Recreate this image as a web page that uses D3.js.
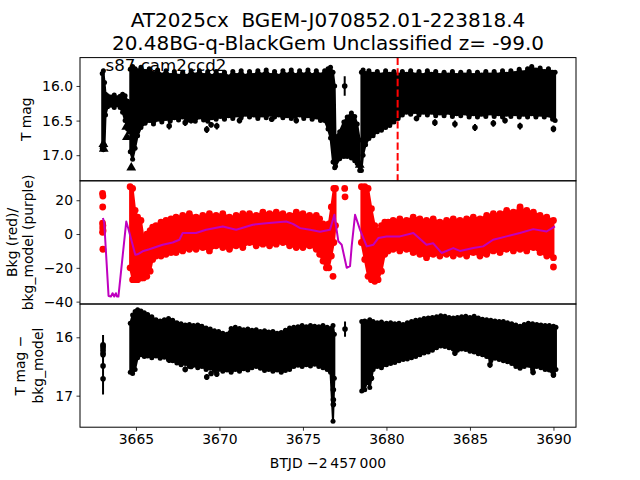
<!DOCTYPE html>
<html><head><meta charset="utf-8">
<script src="https://cdn.jsdelivr.net/npm/d3@7"></script>
<style>body{margin:0;background:#fff} svg{font-family:"DejaVu Sans",sans-serif;display:block}</style>
</head><body><svg id="c" width="640" height="480"></svg>
<script>
// ---------------- data ----------------
const titleLines = ["AT2025cx  BGEM-J070852.01-223818.4", "20.48BG-q-BlackGem Unclassified z= -99.0"];
const cornerLabel = "s87 cam2ccd2";
const xTicks = [3665, 3670, 3675, 3680, 3685, 3690];
const xLabel = "BTJD \u22122\u2009457\u2009000";
const markerTime = 3680.67;

// Panel 1: T mag  [time, upper envelope (bright), lower envelope (faint)]
const p1Ticks = [16.0, 16.5, 17.0];
const p1Early = [[3662.98,15.82,16.9],[3663.05,15.78,16.92],[3663.12,15.95,16.86],[3663.18,16.12,16.42],[3663.3,16.14,16.3],[3663.5,16.16,16.28],[3663.7,16.13,16.31],[3663.9,16.17,16.27],[3664.05,16.15,16.31],[3664.2,16.12,16.38],[3664.35,16.14,16.5],[3664.5,16.22,16.62],[3664.6,16.26,16.66]];
const p1Mid = [[3664.66,15.76,16.95],[3664.8,15.72,17.06],[3664.95,15.75,16.9],[3665.1,15.78,16.72],[3665.3,15.73,16.6],[3665.55,15.79,16.54],[3665.8,15.75,16.5],[3666.05,15.82,16.55],[3666.3,15.77,16.48],[3666.55,15.84,16.52],[3666.8,15.78,16.47],[3667.05,15.85,16.51],[3667.3,15.79,16.46],[3667.55,15.86,16.49],[3667.8,15.8,16.45],[3668.05,15.86,16.5],[3668.3,15.78,16.46],[3668.55,15.84,16.51],[3668.8,15.78,16.45],[3669.05,15.85,16.49],[3669.3,15.79,16.51],[3669.55,15.86,16.46],[3669.8,15.79,16.48],[3670.05,15.85,16.44],[3670.3,15.8,16.48],[3670.55,15.87,16.43],[3670.8,15.79,16.47],[3671.05,15.85,16.42],[3671.3,15.78,16.46],[3671.55,15.86,16.41],[3671.8,15.79,16.45],[3672.05,15.85,16.42],[3672.3,15.78,16.47],[3672.55,15.84,16.42],[3672.8,15.77,16.46],[3673.05,15.85,16.41],[3673.3,15.79,16.45],[3673.55,15.86,16.42],[3673.8,15.78,16.46],[3674.05,15.84,16.43],[3674.3,15.77,16.47],[3674.55,15.85,16.44],[3674.8,15.78,16.42],[3675.05,15.84,16.47],[3675.3,15.77,16.43],[3675.55,15.85,16.48],[3675.8,15.78,16.45],[3676.05,15.84,16.5],[3676.3,15.78,16.5],[3676.5,15.75,16.62],[3676.65,15.73,16.75],[3676.8,15.8,17.1],[3676.9,16.0,17.18],[3676.95,16.75,17.16],[3677.2,16.66,17.05],[3677.45,16.52,17.02],[3677.65,16.45,17.02],[3677.9,16.39,17.04],[3678.1,16.44,17.08],[3678.25,16.55,17.12],[3678.4,16.78,17.22]];
const p1Late = [[3678.5,15.8,17.22],[3678.6,15.77,17.0],[3678.75,15.82,16.85],[3678.95,15.78,16.76],[3679.2,15.83,16.72],[3679.45,15.79,16.66],[3679.7,15.84,16.64],[3679.95,15.78,16.6],[3680.2,15.83,16.57],[3680.45,15.79,16.52],[3680.7,15.84,16.47],[3680.95,15.79,16.42],[3681.2,15.83,16.38],[3681.45,15.78,16.41],[3681.7,15.84,16.37],[3681.95,15.79,16.42],[3682.2,15.85,16.38],[3682.45,15.78,16.42],[3682.7,15.83,16.38],[3682.95,15.79,16.43],[3683.2,15.85,16.39],[3683.45,15.8,16.43],[3683.7,15.84,16.38],[3683.95,15.79,16.44],[3684.2,15.85,16.4],[3684.45,15.8,16.43],[3684.7,15.84,16.39],[3684.95,15.79,16.45],[3685.2,15.85,16.4],[3685.45,15.8,16.45],[3685.7,15.84,16.41],[3685.95,15.79,16.44],[3686.2,15.84,16.39],[3686.45,15.79,16.44],[3686.7,15.84,16.4],[3686.95,15.78,16.45],[3687.2,15.83,16.41],[3687.45,15.78,16.44],[3687.7,15.82,16.4],[3687.95,15.76,16.45],[3688.2,15.81,16.41],[3688.45,15.75,16.45],[3688.7,15.72,16.4],[3688.95,15.77,16.45],[3689.2,15.74,16.41],[3689.45,15.79,16.45],[3689.7,15.75,16.42],[3689.95,15.8,16.48],[3690.1,15.8,16.5]];
// isolated points with error bars [time, mag, half error]
const p1Points = [[3666.99,16.58,0.05],[3667.95,16.53,0.05],[3668.3,16.5,0.04],[3669.24,16.63,0.05],[3669.5,16.56,0.04],[3669.84,16.58,0.05],[3671.2,16.5,0.04],[3673.13,16.48,0.04],[3674.6,16.5,0.04],[3677.5,16.0,0.14],[3681.8,16.47,0.04],[3682.9,16.53,0.05],[3684.1,16.55,0.05],[3685.3,16.6,0.05],[3686.4,16.54,0.05],[3687.1,16.5,0.04],[3688.0,16.58,0.05],[3690.0,16.62,0.05]];
// flagged points (triangles) [time, mag]
const p1Flagged = [[3663.05,16.84],[3663.07,16.91],[3664.42,16.59],[3664.46,16.74],[3664.72,17.18],[3677.55,16.68],[3678.4,17.14]];

// Panel 2: background [time, top, bottom] and model [time, value]
const p2Ticks = [20, 0, -20, -40];
const p2EarlyDots = [[3663.0,24],[3663.02,22.5],[3663.01,16],[3663.0,6.5],[3663.02,5],[3663.01,3.5],[3663.03,2],[3663.0,1],[3663.02,-9]];
const p2Mid = [[3664.65,28,-20],[3664.8,27,-27],[3664.95,14,-27],[3665.1,10,-27],[3665.3,8,-26],[3665.45,-2,-26],[3665.65,0,-25],[3665.85,2,-22],[3666.0,4,-15],[3666.2,5,-13],[3666.5,7,-13],[3666.8,8,-12],[3667.1,9,-11],[3667.4,10,-11],[3667.8,11,-10],[3668.2,12,-9],[3668.6,10,-9],[3669.0,11,-8],[3669.4,12,-10],[3669.8,11,-7],[3670.2,12,-8],[3670.6,10,-9],[3671.0,11,-7],[3671.4,12,-8],[3671.8,12,-5],[3672.2,11,-7],[3672.6,13,-6],[3673.0,12,-7],[3673.4,13,-6],[3673.8,12,-5],[3674.2,11,-7],[3674.6,13,-8],[3675.0,12,-8],[3675.4,11,-7],[3675.8,11,-9],[3676.0,9,-12],[3676.2,6,-16],[3676.4,3,-20],[3676.55,6,-20],[3676.7,16,-13],[3676.85,27,-5],[3676.95,27,5]];
const p2IsoDots = [[3677.5,27],[3677.52,22],[3676.8,-25],[3688.0,16],[3690.0,-19.5]];
const p2Late = [[3678.5,28,-5],[3678.7,28,-15],[3678.9,27,-25],[3679.1,15,-27],[3679.3,5,-28],[3679.5,2,-27],[3679.7,5,-22],[3679.9,7,-12],[3680.1,7,-10],[3680.4,8,-9],[3680.8,9,-10],[3681.2,8,-9],[3681.6,10,-11],[3682.0,9,-12],[3682.4,8,-14],[3682.8,9,-12],[3683.2,7,-13],[3683.6,8,-12],[3684.0,9,-13],[3684.4,8,-12],[3684.8,9,-13],[3685.2,10,-11],[3685.6,9,-13],[3686.0,11,-12],[3686.4,12,-10],[3686.8,12,-11],[3687.2,14,-9],[3687.6,13,-10],[3688.0,15,-9],[3688.4,14,-10],[3688.8,13,-8],[3689.2,11,-11],[3689.6,10,-13],[3690.0,8,-14]];
const p2Model = [[3663.02,9.5],[3663.1,7],[3663.36,-36.7],[3663.5,-37],[3663.6,-35],[3663.7,-37],[3663.8,-35],[3663.86,-37],[3663.95,-37],[3664.42,7.4],[3664.55,3],[3664.96,-12.2],[3665.1,-12],[3665.4,-10.2],[3665.8,-9],[3666.6,-6.3],[3667.2,-5],[3667.6,-3.4],[3667.8,0.6],[3668.6,0.6],[3669.2,2.5],[3670.2,4.5],[3671.0,2.5],[3672.0,5.5],[3672.8,6.4],[3674.0,7.4],[3674.4,6],[3674.83,3.5],[3675.43,2.5],[3676.02,1.3],[3676.62,2.5],[3676.88,11.4],[3677.12,-4.3],[3677.32,-6.3],[3677.62,-20],[3677.82,-19],[3677.92,-7],[3678.12,11.4],[3678.42,2.5],[3678.82,-7.3],[3679.22,-6.3],[3679.51,-2.4],[3680.01,-1.4],[3680.81,-1.4],[3681.61,0.6],[3682.4,-6.3],[3682.8,-5.5],[3683.3,-11.2],[3684.0,-8.3],[3684.4,-10],[3685.2,-8.3],[3685.79,-7.3],[3686.39,-3.4],[3687.19,-1.4],[3687.99,0.6],[3688.79,2.9],[3689.59,1.5],[3690.09,4.5]];

// Panel 3: T mag - bkg_model [time, top, bottom]
const p3Ticks = [16, 17];
const p3EarlyBar = [3663.03, 15.96, 16.98];
const p3EarlyDots = [16.13, 16.15, 16.18, 16.22, 16.27, 16.30, 16.49, 16.71];
const p3Mid = [[3664.66,15.76,16.6],[3664.8,15.62,16.62],[3664.95,15.56,16.55],[3665.1,15.53,16.35],[3665.3,15.55,16.3],[3665.5,15.58,16.33],[3665.7,15.61,16.32],[3665.95,15.65,16.35],[3666.2,15.7,16.32],[3666.45,15.72,16.36],[3666.7,15.7,16.34],[3666.95,15.68,16.38],[3667.2,15.71,16.4],[3667.45,15.75,16.44],[3667.7,15.77,16.47],[3667.95,15.79,16.45],[3668.2,15.78,16.5],[3668.45,15.8,16.48],[3668.7,15.79,16.52],[3668.95,15.81,16.5],[3669.2,15.84,16.55],[3669.45,15.86,16.53],[3669.7,15.89,16.57],[3669.95,15.9,16.55],[3670.2,15.93,16.58],[3670.45,15.95,16.56],[3670.7,15.85,16.6],[3670.95,15.83,16.55],[3671.2,15.85,16.58],[3671.45,15.87,16.54],[3671.7,15.86,16.56],[3671.95,15.88,16.52],[3672.2,15.87,16.5],[3672.45,15.9,16.53],[3672.7,15.89,16.57],[3672.95,15.91,16.55],[3673.2,15.9,16.58],[3673.45,15.93,16.56],[3673.7,15.92,16.6],[3673.95,15.88,16.57],[3674.2,15.84,16.55],[3674.45,15.83,16.5],[3674.7,15.82,16.48],[3674.95,15.8,16.5],[3675.2,15.82,16.47],[3675.45,15.8,16.49],[3675.7,15.81,16.46],[3675.95,15.82,16.5],[3676.2,15.8,16.52],[3676.45,15.83,16.55],[3676.65,15.85,16.6],[3676.8,15.8,17.44],[3676.88,15.95,16.7]];
const p3Late = [[3678.52,15.73,16.92],[3678.7,15.72,16.9],[3678.85,15.74,16.75],[3679.0,15.7,16.86],[3679.2,15.73,16.55],[3679.45,15.75,16.5],[3679.7,15.74,16.52],[3680.0,15.76,16.47],[3680.25,15.75,16.45],[3680.5,15.77,16.43],[3680.75,15.76,16.4],[3681.0,15.78,16.38],[3681.25,15.75,16.37],[3681.5,15.73,16.35],[3681.75,15.71,16.33],[3682.0,15.7,16.3],[3682.25,15.68,16.27],[3682.5,15.67,16.25],[3682.75,15.66,16.22],[3683.0,15.65,16.18],[3683.25,15.63,16.15],[3683.5,15.64,16.16],[3683.75,15.66,16.18],[3684.0,15.67,16.2],[3684.25,15.66,16.22],[3684.5,15.65,16.2],[3684.75,15.64,16.21],[3685.0,15.66,16.24],[3685.25,15.64,16.25],[3685.5,15.67,16.28],[3685.75,15.69,16.3],[3686.0,15.7,16.33],[3686.25,15.71,16.4],[3686.5,15.72,16.36],[3686.75,15.73,16.38],[3687.0,15.73,16.4],[3687.25,15.75,16.42],[3687.5,15.77,16.45],[3687.75,15.79,16.5],[3688.0,15.81,16.53],[3688.25,15.78,16.5],[3688.5,15.76,16.48],[3688.75,15.77,16.55],[3689.0,15.78,16.5],[3689.25,15.79,16.52],[3689.5,15.8,16.55],[3689.75,15.8,16.56],[3690.0,15.81,16.65],[3690.15,15.83,16.55]];
const p3Points = [[3666.99,16.39,0.05],[3667.95,16.55,0.05],[3668.3,16.5,0.04],[3668.8,15.82,0.04],[3669.24,16.68,0.05],[3669.5,16.62,0.04],[3669.84,16.63,0.05],[3676.82,16.9,0.04],[3676.82,17.07,0.04],[3676.82,17.15,0.04],[3677.52,15.86,0.13],[3678.72,16.75,0.05],[3679.1,16.7,0.05],[3684.1,16.27,0.05],[3686.2,16.47,0.05],[3688.78,16.6,0.05],[3690.0,16.64,0.05]];

// ---------------- layout ----------------
const L = 80, R = 576, T = 57.6, PH = 123.2;
const svg = d3.select("#c");
svg.append("rect").attr("width",640).attr("height",480).attr("fill","#fff");
const x = d3.scaleLinear().domain([3661.65, 3691.35]).range([L, R]);
const tops = [T, T+PH, T+2*PH];
const y1 = d3.scaleLinear().domain([15.59, 17.37]).range([tops[0], tops[0]+PH]);
const y2 = d3.scaleLinear().domain([31.5, -41.4]).range([tops[1], tops[1]+PH]);
const y3 = d3.scaleLinear().domain([15.43, 17.54]).range([tops[2], tops[2]+PH]);

const defs = svg.append("defs");
tops.forEach((t,i)=>{
  defs.append("clipPath").attr("id","clip"+i).append("rect")
    .attr("x",L).attr("y",t).attr("width",R-L).attr("height",PH);
});
const g = tops.map((t,i)=>svg.append("g").attr("clip-path",`url(#clip${i})`));

function blob(gr, y, data, color, r){
  const area = d3.area().x(d=>x(d[0])).y0(d=>y(d[2])).y1(d=>y(d[1]));
  gr.append("path").datum(data).attr("d",area).attr("fill",color)
    .attr("stroke",color).attr("stroke-width",2).attr("stroke-linejoin","round");
  const pts = data.flatMap(d=>[[d[0],d[1]],[d[0],d[2]]]);
  gr.selectAll(null).data(pts).join("circle")
    .attr("cx",d=>x(d[0])).attr("cy",d=>y(d[1])).attr("r",r).attr("fill",color);
}
function errPoints(gr, y, data, r){
  gr.selectAll(null).data(data).join("line")
    .attr("x1",d=>x(d[0])).attr("x2",d=>x(d[0]))
    .attr("y1",d=>y(d[1]-d[2])).attr("y2",d=>y(d[1]+d[2]))
    .attr("stroke","#000").attr("stroke-width",2);
  gr.selectAll(null).data(data).join("circle")
    .attr("cx",d=>x(d[0])).attr("cy",d=>y(d[1])).attr("r",r).attr("fill","#000");
}

// Panel 1
blob(g[0], y1, p1Early, "#000", 2.5);
blob(g[0], y1, p1Mid, "#000", 2.5);
blob(g[0], y1, p1Late, "#000", 2.5);
errPoints(g[0], y1, p1Points, 2.8);
g[0].selectAll(null).data(p1Flagged).join("path")
  .attr("d", d3.symbol(d3.symbolTriangle, 42))
  .attr("transform", d=>`translate(${x(d[0])},${y1(d[1])})`).attr("fill","#000");
g[0].append("line").attr("x1",x(markerTime)).attr("x2",x(markerTime))
  .attr("y1",tops[0]).attr("y2",tops[0]+PH)
  .attr("stroke","#ff0000").attr("stroke-width",2).attr("stroke-dasharray","7.4,3.2");

// Panel 2
blob(g[1], y2, p2Mid, "#ff0000", 3.4);
blob(g[1], y2, p2Late, "#ff0000", 3.4);
g[1].selectAll(null).data(p2EarlyDots.concat(p2IsoDots)).join("circle")
  .attr("cx",d=>x(d[0])).attr("cy",d=>y2(d[1])).attr("r",3.4).attr("fill","#ff0000");
g[1].append("path").datum(p2Model)
  .attr("d", d3.line().x(d=>x(d[0])).y(d=>y2(d[1])))
  .attr("fill","none").attr("stroke","#bf00bf").attr("stroke-width",2).attr("stroke-linejoin","round");

// Panel 3
g[2].append("line").attr("x1",x(p3EarlyBar[0])).attr("x2",x(p3EarlyBar[0]))
  .attr("y1",y3(p3EarlyBar[1])).attr("y2",y3(p3EarlyBar[2])).attr("stroke","#000").attr("stroke-width",2);
g[2].selectAll(null).data(p3EarlyDots).join("circle")
  .attr("cx",x(p3EarlyBar[0])).attr("cy",d=>y3(d)).attr("r",2.8).attr("fill","#000");
blob(g[2], y3, p3Mid, "#000", 2.5);
blob(g[2], y3, p3Late, "#000", 2.5);
errPoints(g[2], y3, p3Points, 2.8);

// Axes
function styleAxis(a){
  a.attr("font-family","DejaVu Sans, sans-serif").attr("font-size","13.9px");
  a.select(".domain").remove();
  a.selectAll(".tick line").attr("stroke","#000").attr("stroke-width",0.8);
  a.selectAll(".tick text").attr("fill","#000");
}
[[y1,p1Ticks,d3.format(".1f")],[y2,p2Ticks,d3.format("d")],[y3,p3Ticks,d3.format("d")]].forEach(([y,tv,f])=>{
  const a = svg.append("g").attr("transform",`translate(${L},0)`)
    .call(d3.axisLeft(y).tickValues(tv).tickSize(3.5).tickPadding(3.5).tickFormat(f));
  styleAxis(a);
});
const ax = svg.append("g").attr("transform",`translate(0,${tops[2]+PH})`)
  .call(d3.axisBottom(x).tickValues(xTicks).tickSize(3.5).tickPadding(3.5).tickFormat(d3.format("d")));
styleAxis(ax);

// Frames
tops.forEach(t=>{
  svg.append("rect").attr("x",L).attr("y",t).attr("width",R-L).attr("height",PH)
    .attr("fill","none").attr("stroke","#000").attr("stroke-width",1);
});

// Texts
const cx = (L+R)/2;
svg.append("text").attr("x",cx).attr("y",27).attr("text-anchor","middle")
  .attr("font-size","20px").style("white-space","pre").text(titleLines[0]);
svg.append("text").attr("x",cx).attr("y",50).attr("text-anchor","middle")
  .attr("font-size","20px").style("white-space","pre").text(titleLines[1]);
svg.append("text").attr("x",x(3663.18)).attr("y",70.5).attr("font-size","16.67px").text(cornerLabel);
svg.append("text").attr("x",cx).attr("y",468).attr("text-anchor","middle")
  .attr("font-size","13.9px").text(xLabel);

function yLabel(lines, xs, yc){
  lines.forEach((s,i)=>{
    svg.append("text").attr("transform",`translate(${xs[i]},${yc}) rotate(-90)`)
      .attr("text-anchor","middle").attr("font-size","13.9px").text(s);
  });
}
yLabel(["T mag"], [31], tops[0]+PH/2);
yLabel(["Bkg (red)/","bkg_model (purple)"], [17, 33], tops[1]+PH/2);
yLabel(["T mag \u2212","bkg_model"], [25, 43], tops[2]+PH/2);
</script></body></html>
